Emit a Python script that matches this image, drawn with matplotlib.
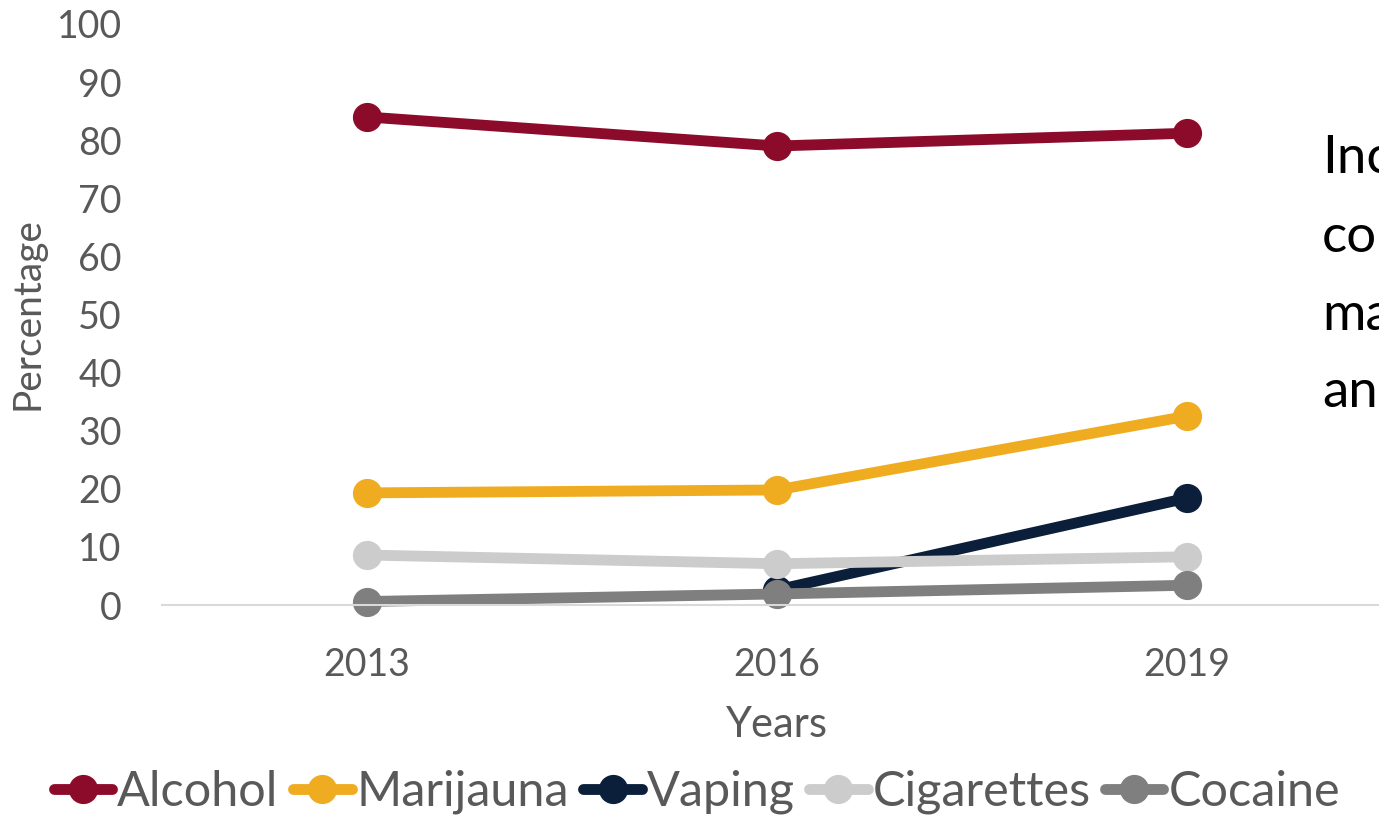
import matplotlib.pyplot as plt
import numpy as np

plt.rcParams['font.family'] = ['Lato', 'DejaVu Sans']

# Survey years and share of respondents (%) reporting use
years = ['2013', '2016', '2019']
alcohol = [84.0, 79.0, 81.2]
marijuana = [19.3, 19.8, 32.5]
vaping = [np.nan, 2.6, 18.4]   # not surveyed in 2013
cigarettes = [8.6, 7.1, 8.3]
cocaine = [0.6, 1.9, 3.4]

series = [
    ('Alcohol', alcohol, '#8C0B2B'),
    ('Marijauna', marijuana, '#F0AC21'),
    ('Vaping', vaping, '#0B1F3B'),
    ('Cigarettes', cigarettes, '#CCCCCC'),
    ('Cocaine', cocaine, '#7F7F7F'),
]

grey_text = '#595959'

fig = plt.figure(figsize=(13.79, 8.18), dpi=100)
# plot area runs a little past the right edge of the figure
ax = fig.add_axes([162/1379, 213/818, 1230/1379, 581/818])

x = np.arange(len(years))
for name, vals, col in series:
    ax.plot(x, vals, color=col, lw=7.8, marker='o', markersize=20,
            solid_capstyle='round', label=name, clip_on=False)

ax.set_xlim(-0.5, 2.5)
ax.set_ylim(0, 100)
ax.set_xticks(x)
ax.set_xticklabels(years)
ax.set_yticks(np.arange(0, 101, 10))

for s in ['top', 'right', 'left']:
    ax.spines[s].set_visible(False)
ax.spines['bottom'].set_color('#D9D9D9')
ax.spines['bottom'].set_linewidth(1.5)

ax.tick_params(axis='both', length=0, labelsize=27, colors=grey_text)
ax.tick_params(axis='x', pad=30)
ax.tick_params(axis='y', pad=29)

fig.text(777/1379, 1 - 725/818, 'Years', fontsize=30, color=grey_text,
         ha='center', va='center')
fig.text(28/1379, 1 - 314/818, 'Percentage', fontsize=28, color=grey_text,
         ha='center', va='center', rotation=90)

# side note, runs off the edge of the figure
note_lines = ['Inc', 'co', 'ma', 'an']
baselines = [173, 252, 330, 407]
for txt, yb in zip(note_lines, baselines):
    fig.text(1322/1379, 1 - yb/818, txt, fontsize=38, color='black',
             ha='left', va='baseline')

fig.legend(loc='center', bbox_to_anchor=(697/1379, 1 - 792/818), ncol=5,
           frameon=False, fontsize=35, handlelength=1.2, handletextpad=0.1,
           columnspacing=0.3, labelcolor=grey_text, borderaxespad=0)

plt.savefig('out.png', dpi=100)
